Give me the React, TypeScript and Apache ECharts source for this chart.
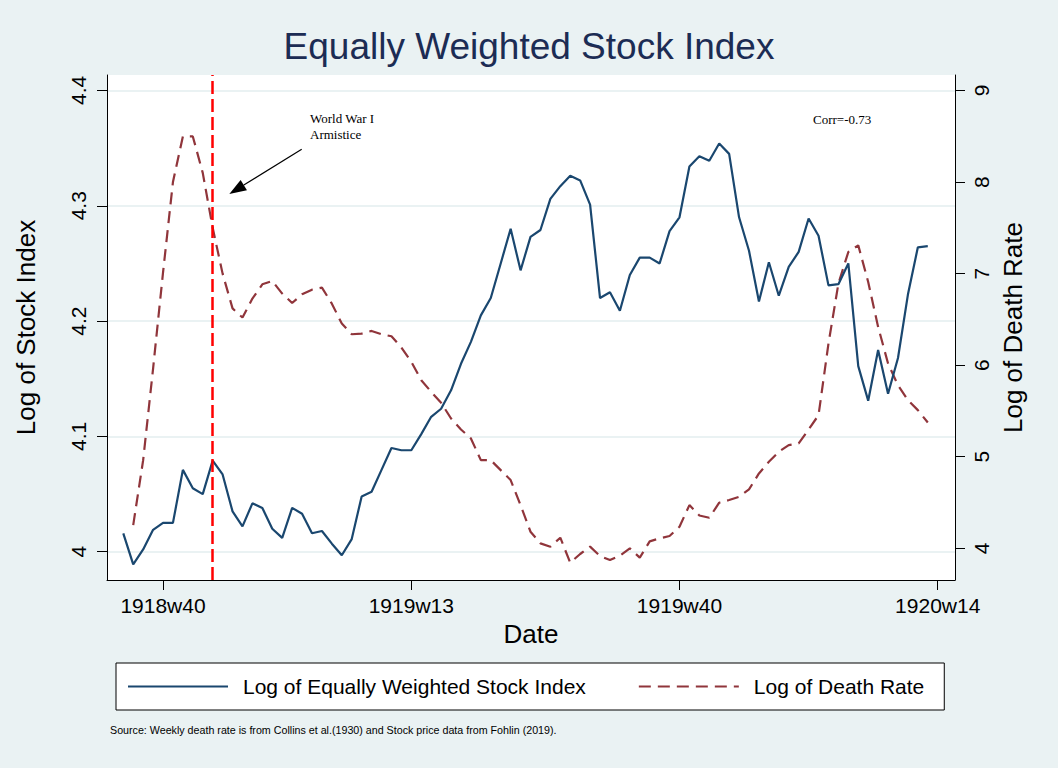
import React, { useEffect, useRef } from "react";
import * as echarts from "echarts";

// ---- Data ----
const stockFirstWeek = "1918w36";
const stockIndex = [
  4.016, 3.989, 4.002, 4.019, 4.025, 4.025, 4.071, 4.055, 4.05, 4.079,
  4.067, 4.035, 4.022, 4.042, 4.038, 4.02, 4.012, 4.038, 4.033, 4.016,
  4.018, 4.007, 3.997, 4.011, 4.048, 4.052, 4.071, 4.09, 4.088, 4.088,
  4.102, 4.117, 4.124, 4.14, 4.163, 4.182, 4.205, 4.22, 4.25, 4.28,
  4.244, 4.273, 4.279, 4.306, 4.317, 4.326, 4.322, 4.301, 4.22, 4.225,
  4.209, 4.24, 4.255, 4.255, 4.25, 4.278, 4.29, 4.334, 4.343, 4.339,
  4.354, 4.345, 4.29, 4.261, 4.217, 4.251, 4.222, 4.247, 4.26, 4.289,
  4.274, 4.231, 4.232, 4.25, 4.161, 4.131, 4.175, 4.137, 4.168, 4.223,
  4.264, 4.265,
];

const deathFirstWeek = "1918w37";
const deathRate = [
  4.254, 4.963, 5.963, 7.011, 8.0, 8.498, 8.498, 8.1, 7.5, 7.0,
  6.62, 6.52, 6.727, 6.883, 6.919, 6.782, 6.679, 6.774, 6.825, 6.847,
  6.672, 6.454, 6.338, 6.345, 6.374, 6.338, 6.316, 6.193, 6.036, 5.836,
  5.709, 5.589, 5.418, 5.298, 5.2, 4.963, 4.963, 4.854, 4.745, 4.472,
  4.181, 4.054, 4.018, 4.116, 3.843, 3.938, 4.018, 3.916, 3.872, 3.92,
  4.0, 3.898, 4.076, 4.109, 4.134, 4.236, 4.472, 4.358, 4.334, 4.498,
  4.527, 4.563, 4.643, 4.818, 4.945, 5.054, 5.127, 5.145, 5.298, 5.454,
  6.236, 6.891, 7.236, 7.309, 6.909, 6.418, 6.018, 5.781, 5.618, 5.509,
  5.374,
];

const xTickLabels = ["1918w40", "1919w13", "1919w40", "1920w14"];
const leftTicks = [4, 4.1, 4.2, 4.3, 4.4];
const rightTicks = [4, 5, 6, 7, 8, 9];
const armisticeWeek = "1918w45";

const titleText = "Equally Weighted Stock Index";
const stockName = "Log of Equally Weighted Stock Index";
const deathName = "Log of Death Rate";
const sourceText =
  "Source: Weekly death rate is from Collins et al.(1930) and Stock price data from Fohlin (2019).";
const corrText = "Corr=-0.73";
const annotationText = "World War I\nArmistice";

// ---- helpers ----
function weekToIndex(s: string): number {
  const [y, w] = s.split("w").map(Number);
  return (y - 1918) * 52 + w;
}
function indexToWeek(t: number): string {
  const y = 1918 + Math.floor((t - 1) / 52);
  const w = ((t - 1) % 52) + 1;
  return `${y}w${w}`;
}

const SANS = '"Liberation Sans", Arial, Helvetica, sans-serif';
const SERIF = '"Liberation Serif", "Times New Roman", serif';

export default function App() {
  const ref = useRef<HTMLDivElement>(null);

  useEffect(() => {
    if (!ref.current) return;
    const chart = echarts.init(ref.current, undefined, { renderer: "svg" });

    const s0 = weekToIndex(stockFirstWeek);
    const d0 = weekToIndex(deathFirstWeek);
    const stockData = stockIndex.map((v, i) => [s0 + i, v]);
    const deathData = deathRate.map((v, i) => [d0 + i, v]);
    const xTicks = xTickLabels.map(weekToIndex);

    const option: any = {
      animation: false,
      backgroundColor: "#eaf2f3",
      title: [
        {
          text: titleText,
          left: "center",
          top: 23,
          textStyle: {
            fontSize: 37,
            fontWeight: "normal",
            color: "#1c2c54",
            fontFamily: SANS,
          },
        },
        {
          text: sourceText,
          left: 105,
          top: 719,
          textStyle: {
            fontSize: 10.7,
            fontWeight: "normal",
            color: "#000",
            fontFamily: SANS,
          },
        },
      ],
      grid: {
        left: 107,
        right: 103,
        top: 75,
        bottom: 188,
        show: true,
        backgroundColor: "#ffffff",
        borderWidth: 0,
      },
      legend: {
        left: 116,
        top: 663,
        orient: "horizontal",
        itemWidth: 100,
        itemHeight: 14,
        itemGap: 52,
        padding: [13, 20, 13, 11],
        borderColor: "#000",
        borderWidth: 1,
        backgroundColor: "#fff",
        itemStyle: { opacity: 0 },
        textStyle: {
          fontSize: 21,
          color: "#000",
          fontFamily: SANS,
          padding: [0, 0, 0, 10],
        },
        data: [stockName, deathName],
      },
      xAxis: {
        type: "value",
        min: 34.36,
        max: 119.74,
        axisLine: { show: true, lineStyle: { color: "#000", width: 1 } },
        axisTick: {
          show: true,
          length: 10,
          customValues: xTicks,
          lineStyle: { color: "#000" },
        },
        axisLabel: {
          customValues: xTicks,
          formatter: (v: number) => indexToWeek(Math.round(v)),
          fontSize: 21,
          color: "#000",
          fontFamily: SANS,
          margin: 15,
        },
        splitLine: { show: false },
        name: "Date",
        nameLocation: "middle",
        nameGap: 37,
        nameTextStyle: { fontSize: 26, color: "#000", fontFamily: SANS },
      },
      yAxis: [
        {
          type: "value",
          position: "left",
          min: 3.9755,
          max: 4.4134,
          axisLine: { show: true, lineStyle: { color: "#000", width: 1 } },
          axisTick: {
            show: true,
            length: 10,
            customValues: leftTicks,
            lineStyle: { color: "#000" },
          },
          axisLabel: {
            customValues: leftTicks,
            rotate: 90,
            fontSize: 21,
            color: "#000",
            fontFamily: SANS,
            margin: 18,
            formatter: (v: number) => String(Math.round(v * 10) / 10),
          },
          splitLine: { show: true, lineStyle: { color: "#eaf2f3", width: 2 } },
          name: "Log of Stock Index",
          nameLocation: "middle",
          nameRotate: 90,
          nameGap: 68,
          nameTextStyle: { fontSize: 26, color: "#000", fontFamily: SANS },
        },
        {
          type: "value",
          position: "right",
          min: 3.654,
          max: 9.169,
          axisLine: { show: true, lineStyle: { color: "#000", width: 1 } },
          axisTick: {
            show: true,
            length: 10,
            customValues: rightTicks,
            lineStyle: { color: "#000" },
          },
          axisLabel: {
            customValues: rightTicks,
            rotate: 90,
            fontSize: 21,
            color: "#000",
            fontFamily: SANS,
            margin: 16,
            formatter: (v: number) => String(Math.round(v)),
          },
          splitLine: { show: false },
          name: "Log of Death Rate",
          nameLocation: "middle",
          nameRotate: 90,
          nameGap: 44,
          nameTextStyle: { fontSize: 26, color: "#000", fontFamily: SANS },
        },
      ],
      series: [
        {
          name: stockName,
          type: "line",
          yAxisIndex: 0,
          data: stockData,
          symbol: "none",
          showSymbol: false,
          lineStyle: { color: "#1a476f", width: 2.2 },
          itemStyle: { color: "#1a476f" },
          z: 3,
          markLine: {
            silent: true,
            symbol: ["none", "none"],
            label: { show: false },
            lineStyle: { color: "#ff0000", type: [13, 5], width: 2.5 },
            data: [{ xAxis: weekToIndex(armisticeWeek) }],
          },
        },
        {
          name: deathName,
          type: "line",
          yAxisIndex: 1,
          data: deathData,
          symbol: "none",
          showSymbol: false,
          lineStyle: { color: "#90353b", width: 2.2, type: [12, 7] },
          itemStyle: { color: "#90353b" },
          z: 2,
        },
      ],
      graphic: [
        {
          type: "text",
          x: 310,
          y: 110,
          style: {
            text: annotationText,
            fill: "#000",
            fontSize: 13,
            fontFamily: SERIF,
            lineHeight: 16,
            verticalAlign: "top",
          },
        },
        {
          type: "text",
          x: 813,
          y: 113,
          style: {
            text: corrText,
            fill: "#000",
            fontSize: 13,
            fontFamily: SERIF,
            verticalAlign: "top",
          },
        },
        {
          type: "line",
          shape: { x1: 301.7, y1: 149.3, x2: 243.8, y2: 185.1 },
          style: { stroke: "#000", lineWidth: 1.2 },
        },
        {
          type: "polygon",
          shape: {
            points: [
              [229.3, 194],
              [246.95, 190.2],
              [240.65, 180.0],
            ],
          },
          style: { fill: "#000" },
        },
      ],
    };

    chart.setOption(option);
    return () => {
      chart.dispose();
    };
  }, []);

  return (
    <div
      ref={ref}
      style={{ position: "absolute", left: 0, top: 0, width: 1058, height: 768 }}
    />
  );
}
